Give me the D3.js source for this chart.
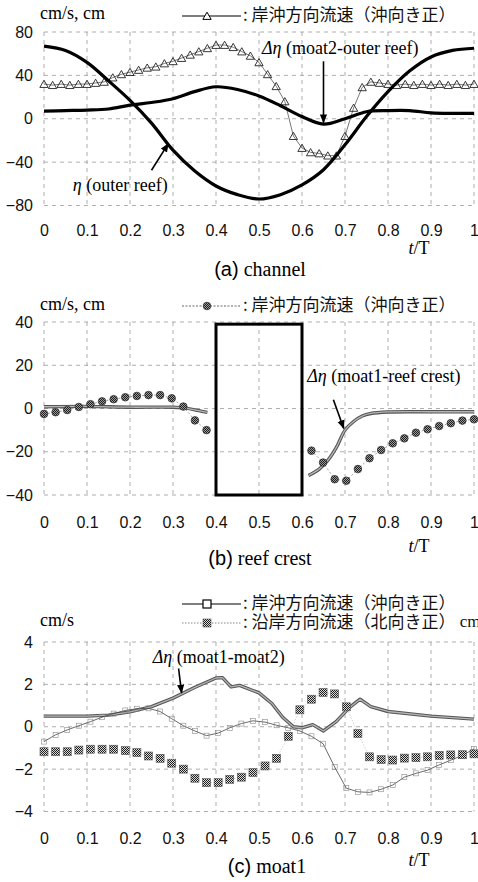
<!DOCTYPE html>
<html>
<head>
<meta charset="utf-8">
<script src="https://cdn.jsdelivr.net/npm/d3@7"></script>
<style>
  body { margin: 0; background: #fff; }
  svg { display: block; }
  .tick text { font-family: "Liberation Sans", Arial, sans-serif; font-size: 16px; fill: #111; }
  .serif { font-family: "Liberation Serif", "DejaVu Serif", serif; }
  .sans { font-family: "Liberation Sans", Arial, sans-serif; }
  .cjk { font-family: "Noto Sans CJK JP", "Noto Sans CJK SC", sans-serif; }
</style>
</head>
<body>
<svg id="fig" width="478" height="882"></svg>
<script>
// ---------- shared axis ----------
const xTicks = [0, 0.1, 0.2, 0.3, 0.4, 0.5, 0.6, 0.7, 0.8, 0.9, 1];
const xTickLabels = ["0", "0.1", "0.2", "0.3", "0.4", "0.5", "0.6", "0.7", "0.8", "0.9", "1"];

// ---------- (a) channel ----------
const yTicksA = [-80, -40, 0, 40, 80];
const tEtaA = [0, 0.05, 0.1, 0.15, 0.2, 0.25, 0.3, 0.35, 0.4, 0.45, 0.5, 0.55, 0.6, 0.65, 0.7, 0.75, 0.8, 0.85, 0.9, 0.95, 1];
const etaOuter = [67, 63, 52, 35, 17, -4, -29, -48, -62, -70, -74, -70, -61, -47, -24, 2, 25, 44, 57, 63, 65];
const dEtaA = [7, 7.5, 8, 9, 12.5, 15, 18.5, 25, 29.5, 27, 21, 12, 2, -5, 0, 6.5, 7.5, 7.5, 5.5, 5, 5];
const tVelA = [0, 0.02, 0.04, 0.06, 0.08, 0.1, 0.12, 0.14, 0.16, 0.18, 0.2, 0.22, 0.24, 0.26, 0.28, 0.3, 0.32, 0.34, 0.36, 0.38,
  0.4, 0.42, 0.44, 0.46, 0.48, 0.5, 0.52, 0.54, 0.56, 0.58, 0.6, 0.62, 0.64, 0.66, 0.68, 0.7, 0.72, 0.74, 0.76, 0.78,
  0.8, 0.82, 0.84, 0.86, 0.88, 0.9, 0.92, 0.94, 0.96, 0.98, 1];
const velA = [32, 31, 32, 31, 32, 32, 33, 34, 38, 41, 43, 45, 47, 48, 51, 53, 56, 59, 62, 65,
  68, 68, 66, 62, 58, 52, 41, 30, 16, -16, -27, -31, -32, -34, -34, -16, 10, 29, 34, 33,
  32, 31, 32, 31, 32, 31, 32, 31, 32, 31, 32];

// ---------- (b) reef crest ----------
const yTicksB = [-40, -20, 0, 20, 40];
const tVelB = [0, 0.027, 0.054, 0.081, 0.108, 0.135, 0.162, 0.189, 0.216, 0.243, 0.27, 0.297, 0.324, 0.351, 0.378,
  0.622, 0.649, 0.676, 0.703, 0.73, 0.757, 0.784, 0.811, 0.838, 0.865, 0.892, 0.919, 0.946, 0.973, 1];
const velB = [-2.5, -1.7, -0.7, 0.7, 2.0, 3.3, 4.3, 5.2, 5.8, 6.2, 6.2, 4.7, 0.9, -5.5, -10,
  -19.5, -25, -32.7, -33.4, -28, -23, -19.2, -16.1, -13.8, -11.2, -9.6, -8.1, -6.8, -5.6, -5.0];
const tEtaB1 = [0, 0.1, 0.2, 0.3, 0.33, 0.36, 0.38];
const dEtaB1 = [0.8, 1.0, 0.6, 0.6, 0.2, -1.0, -1.8];
const tEtaB2 = [0.615, 0.64, 0.66, 0.68, 0.7, 0.72, 0.74, 0.76, 0.8, 0.9, 1];
const dEtaB2 = [-31, -28, -24, -18, -10, -6, -3.5, -2.3, -1.6, -1.5, -1.5];
const crestT = [0.4, 0.6];
const crestV = [-40, 39];

// ---------- (c) moat1 ----------
const yTicksC = [-4, -2, 0, 2, 4];
const tVelC = [0, 0.027, 0.054, 0.081, 0.108, 0.135, 0.162, 0.189, 0.216, 0.243, 0.27, 0.297, 0.324, 0.351, 0.378,
  0.405, 0.432, 0.459, 0.486, 0.514, 0.541, 0.568, 0.595, 0.622, 0.649, 0.676, 0.703, 0.73, 0.757, 0.784,
  0.811, 0.838, 0.865, 0.892, 0.919, 0.946, 0.973, 1];
const crossC = [-0.7, -0.38, -0.15, 0.05, 0.24, 0.45, 0.62, 0.77, 0.85, 0.87, 0.72, 0.38, 0.05, -0.2, -0.42,
  -0.3, -0.05, 0.15, 0.28, 0.22, 0.07, -0.05, -0.2, -0.45, -0.8, -1.9, -2.9, -3.07, -3.1, -2.95,
  -2.75, -2.38, -2.2, -2.05, -1.8, -1.58, -1.35, -1.05];
const longC = [-1.18, -1.18, -1.18, -1.10, -1.06, -1.06, -1.06, -1.13, -1.22, -1.38,
  -1.49, -1.72, -2.0, -2.43, -2.64, -2.64, -2.48, -2.38, -2.16, -1.85,
  -1.49, -0.45, 0.8, 1.3, 1.62, 1.55, 0.94, -0.32, -1.42, -1.55,
  -1.57, -1.48, -1.46, -1.42, -1.35, -1.33, -1.32, -1.28];
const tEtaC = [0, 0.1, 0.15, 0.2, 0.25, 0.3, 0.35, 0.4, 0.415, 0.435, 0.455, 0.5, 0.53, 0.555, 0.58, 0.6, 0.625, 0.65, 0.68, 0.71, 0.735, 0.76, 0.8, 0.9, 1];
const dEtaC = [0.5, 0.5, 0.55, 0.7, 0.95, 1.35, 1.85, 2.3, 2.32, 1.88, 1.95, 1.6, 1.1, 0.45, 0.0, -0.05, 0.1, -0.2, 0.25, 0.9, 1.3, 0.95, 0.72, 0.5, 0.36];

// ---------- drawing ----------
const svg = d3.select("#fig");
const defs = svg.append("defs");

// dotted texture used by the filled markers
function texture(id, light, dark) {
  const p = defs.append("pattern").attr("id", id).attr("width", 2).attr("height", 2)
    .attr("patternUnits", "userSpaceOnUse");
  p.append("rect").attr("width", 2).attr("height", 2).attr("fill", light);
  p.append("rect").attr("width", 1).attr("height", 1).attr("fill", dark);
  p.append("rect").attr("x", 1).attr("y", 1).attr("width", 1).attr("height", 1).attr("fill", dark);
}
texture("texSq", "#d8d8d8", "#1e1e1e");
texture("texCirc", "#9a9a9a", "#1e1e1e");

defs.append("marker").attr("id", "arrow").attr("viewBox", "0 0 10 10")
  .attr("refX", 9).attr("refY", 5).attr("markerWidth", 9).attr("markerHeight", 9)
  .attr("markerUnits", "userSpaceOnUse").attr("orient", "auto")
  .append("path").attr("d", "M0,1 L10,5 L0,9 Z").attr("fill", "#000");

const x = d3.scaleLinear().domain([0, 1]).range([44, 474]);

function zip(ts, vs) { return ts.map((t, i) => [t, vs[i]]); }

function panel(cfg) {
  const y = d3.scaleLinear().domain(cfg.domain).range(cfg.range);
  const g = svg.append("g");
  const [y0, y1] = cfg.range;

  // grid and frame
  const grid = g.append("g").attr("stroke", "#9b9b9b").attr("stroke-width", 0.8)
    .attr("stroke-dasharray", "4,4");
  xTicks.forEach(t => grid.append("line").attr("x1", x(t)).attr("x2", x(t)).attr("y1", y1).attr("y2", y0));
  cfg.yTicks.forEach(v => grid.append("line").attr("x1", x(0)).attr("x2", x(1)).attr("y1", y(v)).attr("y2", y(v)));

  // y tick labels
  g.append("g").attr("transform", `translate(${x(0)},0)`)
    .call(d3.axisLeft(y).tickValues(cfg.yTicks).tickSize(0).tickPadding(11).tickFormat(d3.format("d")))
    .call(a => a.select(".domain").remove());

  // x tick labels
  g.append("g").attr("transform", `translate(0,${cfg.xLabelY})`)
    .call(d3.axisBottom(x).tickValues(xTicks).tickSize(0).tickFormat((d, i) => xTickLabels[i]))
    .call(a => a.select(".domain").remove())
    .call(a => a.selectAll("text").attr("y", 0).attr("dy", "0.35em"));

  // t/T
  const tt = g.append("text").attr("class", "serif").attr("x", 419).attr("y", cfg.tLabelY)
    .attr("text-anchor", "middle").attr("dominant-baseline", "middle").attr("font-size", 18);
  tt.append("tspan").attr("font-style", "italic").text("t");
  tt.append("tspan").text("/T");

  // caption
  const cap = g.append("text").attr("x", cfg.captionX).attr("y", cfg.captionY).attr("text-anchor", "middle")
    .attr("dominant-baseline", "middle").attr("font-size", 20);
  cap.append("tspan").attr("class", "sans").text(cfg.captionTag);
  cap.append("tspan").attr("class", "serif").text(" " + cfg.captionName);

  // unit label
  g.append("text").attr("class", "serif").attr("x", 40).attr("y", cfg.unitY).attr("dominant-baseline", "middle")
    .attr("font-size", 18).text(cfg.unit);

  return { g, y };
}

function legendRow(g, yPos, lineColor, lineDash, drawMarker, label, tail) {
  g.append("line").attr("x1", 182).attr("x2", 241).attr("y1", yPos).attr("y2", yPos)
    .attr("stroke", lineColor).attr("stroke-width", 1.1).attr("stroke-dasharray", lineDash);
  drawMarker(g.append("g").attr("transform", `translate(207,${yPos})`));
  const t = g.append("text").attr("x", 243).attr("y", yPos).attr("dominant-baseline", "middle")
    .attr("font-size", 17).attr("fill", "#111");
  t.append("tspan").attr("class", "cjk").text(": " + label);
  if (tail) t.append("tspan").attr("class", "serif").text(tail);
}

function annotate(g, xs, y, a) {
  const t = g.append("text").attr("class", "serif").attr("x", xs(a.textAt[0])).attr("y", y(a.textAt[1]))
    .attr("font-size", 18).attr("fill", "#000");
  t.append("tspan").attr("font-style", "italic").text(a.symbol);
  t.append("tspan").text(a.label);
  g.append("line").attr("x1", xs(a.from[0])).attr("y1", y(a.from[1]))
    .attr("x2", xs(a.to[0])).attr("y2", y(a.to[1]))
    .attr("stroke", "#000").attr("stroke-width", 1.6).attr("marker-end", "url(#arrow)");
}

const triangle = d3.symbol().type(d3.symbolTriangle).size(30);

// ===== (a) channel =====
{
  const { g, y } = panel({ domain: [-80, 80], range: [205.5, 32], yTicks: yTicksA, xLabelY: 230,
    tLabelY: 250, captionX: 260, captionY: 271, captionTag: "(a)", captionName: "channel", unit: "cm/s, cm", unitY: 15 });

  const thin = d3.line().x(d => x(d[0])).y(d => y(d[1]));
  const smooth = d3.line().x(d => x(d[0])).y(d => y(d[1])).curve(d3.curveCatmullRom);

  const vel = zip(tVelA, velA);
  g.append("path").attr("d", thin(vel)).attr("fill", "none").attr("stroke", "#555").attr("stroke-width", 0.8);
  g.selectAll(".tri").data(vel).join("path").attr("class", "tri")
    .attr("transform", d => `translate(${x(d[0])},${y(d[1]) + 1})`).attr("d", triangle)
    .attr("fill", "none").attr("stroke", "#222").attr("stroke-width", 0.9);

  g.append("path").attr("d", smooth(zip(tEtaA, etaOuter))).attr("fill", "none").attr("stroke", "#000").attr("stroke-width", 3.2);
  g.append("path").attr("d", smooth(zip(tEtaA, dEtaA))).attr("fill", "none").attr("stroke", "#000").attr("stroke-width", 3.2);

  annotate(g, x, y, { symbol: "Δη", label: " (moat2-outer reef)", textAt: [0.507, 60], from: [0.65, 53], to: [0.65, -3.5] });
  annotate(g, x, y, { symbol: "η", label: " (outer reef)", textAt: [0.067, -67], from: [0.25, -47.5], to: [0.289, -23] });

  legendRow(g, 16, "#000", null, m => m.append("path").attr("d", triangle).attr("transform", "translate(0,1)")
    .attr("fill", "#fff").attr("stroke", "#000").attr("stroke-width", 1), "岸沖方向流速（沖向き正）");
}

// ===== (b) reef crest =====
{
  const { g, y } = panel({ domain: [-40, 40], range: [495, 322], yTicks: yTicksB, xLabelY: 522,
    tLabelY: 548, captionX: 260, captionY: 560, captionTag: "(b)", captionName: "reef crest", unit: "cm/s, cm", unitY: 306 });

  g.append("rect").attr("x", x(crestT[0])).attr("y", y(crestV[1]))
    .attr("width", x(crestT[1]) - x(crestT[0])).attr("height", y(crestV[0]) - y(crestV[1]))
    .attr("fill", "none").attr("stroke", "#000").attr("stroke-width", 3);

  const band = d3.line().x(d => x(d[0])).y(d => y(d[1])).curve(d3.curveCatmullRom);
  [zip(tEtaB1, dEtaB1), zip(tEtaB2, dEtaB2)].forEach(seg => {
    g.append("path").attr("d", band(seg)).attr("fill", "none").attr("stroke", "#555").attr("stroke-width", 3.4);
    g.append("path").attr("d", band(seg)).attr("fill", "none").attr("stroke", "#b5b5b5").attr("stroke-width", 1.3);
  });

  const vel = zip(tVelB, velB);
  const thin = d3.line().x(d => x(d[0])).y(d => y(d[1]));
  [vel.slice(0, 15), vel.slice(15)].forEach(seg =>
    g.append("path").attr("d", thin(seg)).attr("fill", "none").attr("stroke", "#777").attr("stroke-width", 0.7).attr("stroke-dasharray", "2,2"));
  g.selectAll(".dot").data(vel).join("circle").attr("class", "dot")
    .attr("cx", d => x(d[0])).attr("cy", d => y(d[1])).attr("r", 3.8)
    .attr("fill", "url(#texCirc)").attr("stroke", "#333").attr("stroke-width", 0.8);

  annotate(g, x, y, { symbol: "Δη", label: " (moat1-reef crest)", textAt: [0.612, 12.3], from: [0.673, 4], to: [0.697, -9.2] });

  legendRow(g, 306, "#666", "2,1.5", m => m.append("circle").attr("r", 3.8)
    .attr("fill", "url(#texCirc)").attr("stroke", "#333").attr("stroke-width", 0.8), "岸沖方向流速（沖向き正）");
}

// ===== (c) moat1 =====
{
  const { g, y } = panel({ domain: [-4, 4], range: [811.5, 642], yTicks: yTicksC, xLabelY: 838,
    tLabelY: 862, captionX: 267, captionY: 868, captionTag: "(c)", captionName: "moat1", unit: "cm/s", unitY: 622 });

  const thin = d3.line().x(d => x(d[0])).y(d => y(d[1]));
  const long = zip(tVelC, longC);
  const cross = zip(tVelC, crossC);

  g.append("path").attr("d", thin(long)).attr("fill", "none").attr("stroke", "#b0b0b0").attr("stroke-width", 0.6).attr("stroke-dasharray", "1.5,1.5");

  const band = d3.line().x(d => x(d[0])).y(d => y(d[1]));
  const eta = zip(tEtaC, dEtaC);
  g.append("path").attr("d", band(eta)).attr("fill", "none").attr("stroke", "#555").attr("stroke-width", 3.4).attr("stroke-linejoin", "round");
  g.append("path").attr("d", band(eta)).attr("fill", "none").attr("stroke", "#b5b5b5").attr("stroke-width", 1.3).attr("stroke-linejoin", "round");

  g.append("path").attr("d", thin(cross)).attr("fill", "none").attr("stroke", "#444").attr("stroke-width", 0.8);
  g.selectAll(".osq").data(cross).join("rect").attr("class", "osq")
    .attr("x", d => x(d[0]) - 2.5).attr("y", d => y(d[1]) - 2.5).attr("width", 5).attr("height", 5)
    .attr("fill", "none").attr("stroke", "#888").attr("stroke-width", 0.6);

  g.selectAll(".tsq").data(long).join("rect").attr("class", "tsq")
    .attr("x", d => x(d[0]) - 4).attr("y", d => y(d[1]) - 4).attr("width", 8).attr("height", 8)
    .attr("fill", "url(#texSq)").attr("stroke", "#555").attr("stroke-width", 0.6);

  annotate(g, x, y, { symbol: "Δη", label: " (moat1-moat2)", textAt: [0.253, 3.0], from: [0.313, 2.75], to: [0.32, 1.6] });

  legendRow(g, 604, "#000", null, m => m.append("rect").attr("x", -4).attr("y", -4).attr("width", 8).attr("height", 8)
    .attr("fill", "#fff").attr("stroke", "#000").attr("stroke-width", 1.2), "岸沖方向流速（沖向き正）");
  legendRow(g, 623, "#888", "1.5,1.5", m => m.append("rect").attr("x", -4).attr("y", -4).attr("width", 8).attr("height", 8)
    .attr("fill", "url(#texSq)").attr("stroke", "#555").attr("stroke-width", 0.6), "沿岸方向流速（北向き正）", " cm/s");
}
</script>
</body>
</html>
